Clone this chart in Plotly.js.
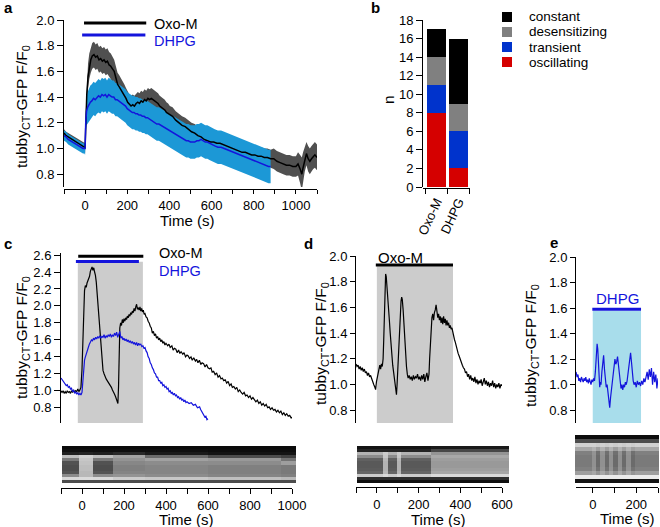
<!DOCTYPE html>
<html><head><meta charset="utf-8">
<script src="https://cdn.plot.ly/plotly-3.0.1.min.js"></script>
<style>html,body{margin:0;padding:0;background:#fff}#chart{width:660px;height:527px}</style>
</head><body><div id="chart"></div>
<script>
// ---------- Panel a : mean +/- SEM (t, mean, sem) ----------
const aOxoM = [[-100,1.12,0.03],[-90,1.10,0.03],[-80,1.09,0.03],[-70,1.08,0.03],[-60,1.07,0.03],[-50,1.06,0.03],[-40,1.05,0.03],[-30,1.04,0.03],[-20,1.03,0.03],[-10,1.02,0.03],[-3,1.01,0.03],[0,1.00,0.04],[4,1.25,0.07],[8,1.42,0.09],[14,1.56,0.10],[20,1.64,0.10],[27,1.69,0.10],[34,1.72,0.10],[42,1.73,0.10],[50,1.71,0.10],[58,1.72,0.10],[66,1.69,0.10],[74,1.70,0.10],[82,1.68,0.10],[90,1.69,0.10],[98,1.67,0.10],[106,1.68,0.10],[114,1.65,0.10],[122,1.64,0.10],[130,1.62,0.10],[138,1.60,0.09],[146,1.55,0.09],[154,1.50,0.09],[162,1.48,0.09],[170,1.46,0.09],[178,1.44,0.09],[186,1.41,0.09],[194,1.39,0.08],[202,1.36,0.08],[210,1.34,0.08],[218,1.33,0.08],[226,1.34,0.08],[234,1.33,0.08],[242,1.35,0.08],[250,1.36,0.08],[258,1.35,0.08],[266,1.37,0.08],[274,1.36,0.08],[282,1.38,0.08],[290,1.37,0.08],[298,1.39,0.08],[306,1.38,0.08],[314,1.39,0.08],[322,1.38,0.08],[330,1.37,0.08],[338,1.36,0.08],[346,1.35,0.08],[354,1.33,0.08],[362,1.32,0.08],[370,1.31,0.08],[378,1.30,0.08],[386,1.28,0.08],[394,1.27,0.08],[402,1.26,0.07],[415,1.25,0.07],[430,1.22,0.07],[445,1.20,0.07],[460,1.18,0.07],[475,1.17,0.07],[490,1.15,0.07],[505,1.13,0.07],[520,1.12,0.07],[535,1.10,0.07],[550,1.09,0.07],[565,1.07,0.07],[580,1.06,0.07],[595,1.05,0.07],[610,1.05,0.07],[625,1.04,0.07],[640,1.04,0.06],[655,1.03,0.06],[670,1.02,0.06],[685,1.01,0.06],[700,1.00,0.06],[715,0.99,0.06],[730,0.98,0.06],[745,0.97,0.06],[760,0.97,0.06],[775,0.96,0.06],[790,0.95,0.06],[805,0.95,0.06],[820,0.94,0.07],[835,0.94,0.07],[850,0.93,0.07],[865,0.93,0.07],[880,0.92,0.07],[895,0.92,0.08],[910,0.90,0.08],[925,0.89,0.08],[940,0.88,0.08],[955,0.87,0.08],[970,0.87,0.08],[985,0.86,0.08],[1000,0.86,0.08],[1010,0.88,0.09],[1020,0.84,0.11],[1028,0.80,0.13],[1034,0.85,0.12],[1042,0.92,0.10],[1050,0.96,0.09],[1058,0.92,0.10],[1066,0.90,0.10],[1074,0.92,0.10],[1082,0.94,0.10],[1090,0.95,0.10],[1100,0.93,0.10]];
const aDHPG = [[-100,1.10,0.04],[-90,1.09,0.04],[-80,1.07,0.04],[-70,1.06,0.04],[-60,1.05,0.04],[-50,1.04,0.04],[-40,1.03,0.04],[-30,1.02,0.04],[-20,1.01,0.04],[-10,1.00,0.04],[-3,1.00,0.04],[0,1.00,0.05],[3,1.20,0.08],[7,1.29,0.11],[12,1.32,0.12],[18,1.34,0.13],[25,1.36,0.13],[32,1.37,0.13],[40,1.39,0.13],[48,1.38,0.13],[56,1.40,0.13],[64,1.41,0.13],[72,1.40,0.13],[80,1.42,0.13],[88,1.41,0.13],[96,1.42,0.13],[104,1.40,0.13],[112,1.42,0.13],[120,1.41,0.13],[128,1.40,0.13],[136,1.40,0.13],[144,1.38,0.13],[152,1.38,0.13],[160,1.37,0.13],[168,1.36,0.13],[176,1.35,0.13],[184,1.34,0.13],[192,1.33,0.13],[200,1.31,0.13],[208,1.30,0.13],[216,1.29,0.13],[224,1.28,0.13],[232,1.28,0.13],[240,1.27,0.13],[248,1.27,0.13],[256,1.26,0.13],[264,1.26,0.13],[272,1.25,0.13],[280,1.25,0.13],[288,1.24,0.13],[296,1.24,0.13],[304,1.23,0.13],[312,1.22,0.13],[320,1.21,0.13],[330,1.20,0.13],[340,1.19,0.13],[350,1.19,0.13],[360,1.18,0.13],[370,1.17,0.13],[380,1.16,0.13],[390,1.15,0.13],[400,1.14,0.13],[410,1.13,0.13],[420,1.12,0.13],[430,1.11,0.13],[440,1.10,0.13],[450,1.09,0.13],[460,1.08,0.13],[470,1.07,0.13],[480,1.06,0.13],[490,1.06,0.13],[500,1.05,0.13],[510,1.05,0.13],[520,1.05,0.13],[530,1.06,0.13],[540,1.06,0.13],[550,1.07,0.13],[560,1.06,0.13],[570,1.05,0.13],[580,1.05,0.13],[590,1.04,0.13],[600,1.03,0.13],[615,1.02,0.13],[630,1.01,0.13],[645,1.01,0.13],[660,1.00,0.13],[675,0.99,0.13],[690,0.98,0.13],[705,0.97,0.13],[720,0.96,0.13],[735,0.95,0.13],[750,0.94,0.13],[765,0.93,0.13],[780,0.92,0.13],[795,0.91,0.13],[810,0.90,0.13],[825,0.89,0.13],[840,0.88,0.13],[855,0.87,0.13],[870,0.86,0.13],[880,0.86,0.13]];
const aTickVals = [-100,0,100,200,300,400,500,600,700,800,900,1000,1100];
const aTickText = ['','0','','200','','400','','600','','800','','1000',''];
const yTicks07 = [0.8,1.0,1.2,1.4,1.6,1.8,2.0];
const yTicks07Text = ['0.8','1.0','1.2','1.4','1.6','1.8','2.0'];

// ---------- Panel b : response types ----------
const bCategories = ['Oxo-M','DHPG'];
const bOscillating = [8,2];
const bTransient = [3,4];
const bDesensitizing = [3,3];
const bConstant = [3,7];
const bYTicks = [0,2,4,6,8,10,12,14,16,18];

// ---------- Panel c : single-cell traces ----------
const cOxoM = [[-100,1.00],[-95,0.98],[-90,1.00],[-85,0.97],[-80,0.99],[-75,0.97],[-70,1.00],[-65,0.98],[-60,0.99],[-55,0.97],[-50,1.00],[-45,0.98],[-40,1.01],[-35,0.98],[-30,1.00],[-25,0.99],[-20,1.02],[-15,0.99],[-10,1.01],[-5,1.04],[0,1.25],[4,1.65],[8,2.00],[12,2.18],[16,2.24],[20,2.22],[24,2.27],[28,2.29],[32,2.33],[36,2.35],[40,2.41],[44,2.44],[48,2.46],[52,2.42],[56,2.45],[60,2.40],[64,2.36],[68,2.28],[72,2.15],[76,2.00],[80,1.85],[84,1.68],[88,1.52],[92,1.40],[96,1.30],[100,1.24],[105,1.20],[110,1.16],[115,1.14],[120,1.12],[125,1.10],[130,1.09],[135,1.06],[140,1.04],[145,1.01],[150,0.99],[155,0.96],[160,0.93],[164,0.90],[168,0.87],[171,0.85],[174,1.05],[177,1.45],[180,1.74],[184,1.80],[188,1.77],[192,1.84],[196,1.80],[200,1.85],[204,1.82],[208,1.86],[212,1.84],[216,1.88],[220,1.86],[224,1.90],[228,1.88],[232,1.92],[236,1.90],[240,1.94],[244,1.92],[248,1.97],[252,1.94],[256,1.99],[260,2.02],[264,1.96],[268,1.98],[272,1.95],[276,1.99],[280,1.94],[284,1.97],[288,1.93],[292,1.95],[296,1.90],[300,1.91],[305,1.87],[310,1.86],[315,1.82],[320,1.80],[325,1.76],[330,1.74],[335,1.68],[340,1.70],[345,1.65],[350,1.67],[355,1.62],[360,1.64],[365,1.60],[370,1.62],[375,1.58],[380,1.60],[385,1.56],[390,1.58],[395,1.54],[400,1.56],[408,1.53],[414,1.55],[420,1.51],[428,1.53],[434,1.48],[440,1.50],[447,1.49],[453,1.45],[460,1.48],[466,1.44],[472,1.46],[480,1.43],[486,1.45],[493,1.40],[500,1.42],[506,1.41],[512,1.38],[519,1.40],[525,1.36],[532,1.39],[540,1.35],[546,1.37],[552,1.33],[559,1.36],[566,1.31],[572,1.33],[579,1.32],[586,1.28],[593,1.31],[600,1.27],[607,1.26],[614,1.27],[620,1.22],[627,1.23],[634,1.19],[641,1.21],[648,1.16],[655,1.18],[662,1.14],[668,1.15],[675,1.12],[682,1.13],[689,1.09],[696,1.11],[703,1.06],[710,1.08],[716,1.04],[723,1.05],[730,1.02],[737,1.04],[744,0.99],[751,1.01],[758,0.98],[765,0.96],[772,0.98],[779,0.94],[786,0.95],[793,0.92],[800,0.94],[807,0.90],[814,0.92],[821,0.89],[828,0.87],[835,0.89],[842,0.85],[849,0.87],[856,0.83],[863,0.85],[870,0.82],[877,0.84],[884,0.80],[891,0.81],[898,0.78],[905,0.80],[912,0.77],[919,0.78],[926,0.75],[933,0.77],[940,0.74],[947,0.76],[954,0.72],[961,0.74],[968,0.71],[975,0.73],[982,0.70],[989,0.71],[996,0.68],[1005,0.69]];
const cDHPG = [[-100,1.15],[-95,1.13],[-90,1.12],[-85,1.09],[-80,1.08],[-75,1.06],[-70,1.07],[-65,1.04],[-60,1.05],[-55,1.02],[-50,1.03],[-45,0.99],[-40,1.01],[-35,0.97],[-30,0.99],[-25,0.96],[-20,0.98],[-15,0.95],[-10,0.97],[-5,0.95],[0,0.98],[3,1.08],[6,1.22],[9,1.33],[12,1.36],[15,1.39],[18,1.42],[22,1.44],[26,1.47],[30,1.51],[35,1.55],[40,1.57],[45,1.60],[50,1.59],[55,1.62],[60,1.60],[65,1.63],[70,1.61],[75,1.64],[80,1.62],[85,1.65],[90,1.62],[95,1.64],[100,1.63],[105,1.66],[110,1.62],[115,1.65],[120,1.63],[125,1.66],[130,1.64],[135,1.67],[140,1.63],[145,1.66],[150,1.64],[155,1.68],[160,1.65],[165,1.69],[170,1.63],[175,1.66],[180,1.70],[185,1.62],[190,1.64],[195,1.60],[200,1.62],[205,1.59],[210,1.61],[215,1.58],[220,1.60],[225,1.57],[230,1.59],[235,1.56],[240,1.58],[245,1.55],[250,1.57],[255,1.54],[260,1.57],[265,1.53],[270,1.56],[275,1.54],[280,1.55],[285,1.52],[290,1.53],[295,1.50],[300,1.51],[305,1.47],[310,1.45],[315,1.40],[320,1.38],[325,1.33],[330,1.31],[335,1.27],[340,1.25],[345,1.21],[350,1.20],[355,1.16],[360,1.16],[365,1.12],[370,1.12],[375,1.09],[380,1.10],[385,1.06],[390,1.07],[395,1.04],[400,1.05],[405,1.02],[410,1.03],[415,0.99],[420,1.00],[425,0.97],[430,0.98],[435,0.95],[440,0.97],[445,0.94],[450,0.95],[455,0.92],[460,0.93],[465,0.90],[470,0.92],[475,0.89],[480,0.90],[485,0.87],[490,0.89],[495,0.86],[500,0.87],[510,0.85],[520,0.86],[530,0.83],[540,0.84],[550,0.80],[560,0.81],[565,0.78],[570,0.76],[575,0.73],[580,0.72],[585,0.69],[590,0.70],[595,0.66],[600,0.67]];
const cTickVals = [-100,0,100,200,300,400,500,600,700,800,900,1000];
const cTickText = ['','0','','200','','400','','600','','800','','1000'];
const cYTicks = [0.8,1.0,1.2,1.4,1.6,1.8,2.0,2.2,2.4,2.6];
const cYTicksText = ['0.8','1.0','1.2','1.4','1.6','1.8','2.0','2.2','2.4','2.6'];

// ---------- Panel d ----------
const dOxoM = [[-100,1.16],[-95,1.14],[-90,1.15],[-85,1.12],[-80,1.14],[-75,1.11],[-70,1.13],[-65,1.10],[-60,1.12],[-55,1.09],[-50,1.10],[-45,1.07],[-40,1.09],[-35,1.06],[-30,1.07],[-25,1.04],[-20,1.03],[-15,1.00],[-10,0.98],[-6,0.96],[-2,1.02],[2,1.06],[6,1.10],[10,1.12],[14,1.15],[18,1.12],[22,1.16],[26,1.14],[30,1.20],[33,1.35],[36,1.55],[39,1.72],[42,1.86],[45,1.84],[48,1.78],[52,1.72],[56,1.62],[60,1.50],[64,1.40],[68,1.30],[72,1.22],[76,1.15],[80,1.10],[84,1.05],[88,1.00],[91,0.94],[94,0.92],[97,1.00],[100,1.12],[104,1.30],[108,1.46],[112,1.58],[116,1.65],[119,1.68],[122,1.66],[126,1.58],[130,1.45],[134,1.33],[138,1.22],[142,1.14],[146,1.08],[150,1.05],[155,1.07],[160,1.04],[165,1.06],[170,1.03],[175,1.07],[180,1.04],[185,1.06],[190,1.05],[195,1.08],[200,1.04],[205,1.06],[210,1.03],[215,1.07],[220,1.04],[225,1.08],[230,1.02],[235,1.06],[240,1.09],[245,1.03],[250,1.08],[253,1.20],[256,1.32],[260,1.45],[264,1.52],[268,1.55],[272,1.50],[276,1.56],[280,1.58],[284,1.62],[288,1.55],[292,1.52],[296,1.55],[300,1.50],[304,1.53],[308,1.48],[312,1.52],[316,1.47],[320,1.53],[324,1.48],[328,1.51],[332,1.46],[336,1.50],[340,1.46],[344,1.48],[348,1.44],[352,1.46],[356,1.43],[360,1.44],[364,1.40],[368,1.38],[372,1.35],[376,1.33],[380,1.30],[385,1.27],[390,1.24],[395,1.22],[400,1.19],[405,1.17],[410,1.15],[415,1.13],[420,1.12],[425,1.09],[430,1.10],[435,1.06],[440,1.08],[445,1.04],[450,1.07],[455,1.03],[460,1.05],[465,1.02],[470,1.06],[475,1.01],[480,1.04],[485,1.00],[490,1.03],[495,1.01],[500,1.04],[505,0.99],[510,1.02],[515,1.05],[520,1.00],[525,1.03],[530,0.99],[535,1.02],[540,0.98],[545,1.01],[550,0.99],[555,1.03],[560,0.98],[565,1.01],[570,0.97],[575,1.00],[580,0.98],[585,1.01],[590,0.97],[595,1.00],[600,0.99]];
const dTickVals = [-100,0,100,200,300,400,500,600];
const dTickText = ['','0','','200','','400','','600'];

// ---------- Panel e ----------
const eDHPG = [[-77,1.10],[-72,1.06],[-68,1.08],[-64,1.03],[-60,1.05],[-56,1.02],[-52,1.06],[-48,1.04],[-44,1.02],[-40,1.05],[-36,1.03],[-32,1.06],[-28,1.02],[-24,1.04],[-20,1.01],[-16,1.05],[-12,1.03],[-8,1.00],[-4,1.04],[0,1.02],[4,1.05],[8,1.03],[12,1.10],[16,1.22],[20,1.32],[23,1.28],[26,1.15],[29,1.05],[32,0.98],[35,1.02],[38,1.00],[42,1.10],[46,1.20],[50,1.23],[54,1.12],[58,1.02],[62,0.98],[66,1.00],[70,0.95],[74,0.90],[78,0.82],[82,0.90],[86,0.97],[90,1.00],[94,1.05],[98,1.15],[102,1.20],[106,1.16],[110,1.18],[114,1.22],[118,1.15],[122,1.05],[126,1.00],[130,0.97],[134,1.00],[138,0.96],[142,1.00],[146,0.98],[150,1.02],[154,1.00],[158,1.03],[162,1.08],[166,1.15],[170,1.20],[174,1.25],[178,1.18],[182,1.08],[186,1.03],[190,1.00],[195,1.02],[200,0.98],[205,1.03],[210,1.00],[215,1.02],[220,0.99],[225,1.03],[230,1.00],[235,1.05],[240,1.02],[245,1.08],[250,1.10],[255,1.04],[260,1.12],[265,1.06],[270,1.13],[275,1.00],[280,1.10],[285,1.02],[290,1.08],[295,0.97],[300,1.05]];
const eTickVals = [0,100,200,300];
const eTickText = ['0','','200',''];

// ---------- Kymograph strips (column edges in s, profile per column, top->bottom grey levels) ----------
const kymoCProfiles = {
  dark:   [0.04,0.06,0.12,0.74,0.48,0.32,0.30,0.30,0.33,0.55,0.85,0.30],
  bright: [0.04,0.06,0.14,0.82,0.78,0.76,0.74,0.74,0.72,0.72,0.86,0.30],
  mid:    [0.04,0.06,0.16,0.64,0.58,0.53,0.50,0.50,0.52,0.58,0.80,0.30],
  late1:  [0.04,0.06,0.10,0.42,0.63,0.55,0.52,0.52,0.52,0.55,0.78,0.30],
  late2:  [0.04,0.05,0.08,0.30,0.60,0.55,0.50,0.50,0.50,0.52,0.75,0.30],
  end:    [0.04,0.05,0.08,0.25,0.45,0.62,0.48,0.48,0.48,0.50,0.72,0.30]
};
const kymoCEdges = [-95,-15,55,150,300,600,950,1020];
const kymoCCols = ['dark','bright','dark','mid','late1','late2','end'];
const kymoDProfiles = {
  dark:   [0.08,0.14,0.70,0.55,0.38,0.35,0.35,0.36,0.40,0.80,0.18,0.06],
  bright: [0.08,0.14,0.80,0.78,0.72,0.70,0.70,0.70,0.72,0.85,0.18,0.06],
  light:  [0.10,0.28,0.58,0.66,0.62,0.60,0.60,0.62,0.65,0.85,0.18,0.06]
};
const kymoDEdges = [-96,30,55,95,115,260,635];
const kymoDCols = ['dark','bright','dark','bright','dark','light'];
const kymoEProfiles = {
  base:  [0.05,0.30,0.82,0.66,0.50,0.48,0.48,0.48,0.50,0.62,0.92,0.08],
  light: [0.05,0.30,0.82,0.70,0.58,0.57,0.57,0.57,0.58,0.66,0.92,0.08],
  dark:  [0.05,0.30,0.80,0.62,0.44,0.42,0.42,0.42,0.45,0.58,0.92,0.08]
};
const kymoEEdges = [-77,0,20,40,60,80,100,120,140,160,180,200,310];
const kymoECols = ['base','light','dark','light','dark','light','dark','light','dark','light','dark','base'];

// ---------- helpers ----------
const W = 660, H = 527;
const X = p => p / W, Y = p => 1 - p / H;
const FONT = 'Liberation Sans, Arial, sans-serif';
const BLUE = '#1414dc';
const col = (arr, i) => arr.map(r => r[i]);
function kymoZ(profiles, cols) {
  const rows = profiles[cols[0]].length;
  const z = [];
  for (let r = 0; r < rows; r++) z.push(cols.map(c => profiles[c][r]));
  return z;
}
function band(arr) {
  const t = col(arr, 0), up = arr.map(r => r[1] + r[2]), lo = arr.map(r => r[1] - r[2]);
  return {x: t.concat(t.slice().reverse()), y: up.concat(lo.slice().reverse())};
}
const grey = [[0,'#000'],[1,'#fff']];

const bandOxo = band(aOxoM), bandDh = band(aDHPG);
const traces = [
  {type:'scatter', mode:'lines', x:bandOxo.x, y:bandOxo.y, fill:'toself', fillcolor:'rgb(80,80,80)', line:{width:0}, xaxis:'x', yaxis:'y', hoverinfo:'skip'},
  {type:'scatter', mode:'lines', x:bandDh.x, y:bandDh.y, fill:'toself', fillcolor:'rgb(28,152,214)', line:{width:0}, xaxis:'x', yaxis:'y', hoverinfo:'skip'},
  {type:'scatter', mode:'lines', x:col(aOxoM,0), y:col(aOxoM,1), line:{color:'#000', width:1.5}, xaxis:'x', yaxis:'y'},
  {type:'scatter', mode:'lines', x:col(aDHPG,0), y:col(aDHPG,1), line:{color:BLUE, width:1.5}, xaxis:'x', yaxis:'y'},
  {type:'bar', x:bCategories, y:bOscillating, marker:{color:'rgb(213,0,0)', line:{width:0}}, width:0.86, xaxis:'x2', yaxis:'y2'},
  {type:'bar', x:bCategories, y:bTransient, marker:{color:'rgb(0,51,204)', line:{width:0}}, width:0.86, xaxis:'x2', yaxis:'y2'},
  {type:'bar', x:bCategories, y:bDesensitizing, marker:{color:'rgb(128,128,128)', line:{width:0}}, width:0.86, xaxis:'x2', yaxis:'y2'},
  {type:'bar', x:bCategories, y:bConstant, marker:{color:'#000', line:{width:0}}, width:0.86, xaxis:'x2', yaxis:'y2'},
  {type:'scatter', mode:'lines', x:col(cOxoM,0), y:col(cOxoM,1), line:{color:'#000', width:1.2}, xaxis:'x3', yaxis:'y3'},
  {type:'scatter', mode:'lines', x:col(cDHPG,0), y:col(cDHPG,1), line:{color:BLUE, width:1.2}, xaxis:'x3', yaxis:'y3'},
  {type:'heatmap', x:kymoCEdges, z:kymoZ(kymoCProfiles,kymoCCols), colorscale:grey, zmin:0, zmax:1, showscale:false, xaxis:'x4', yaxis:'y4', hoverinfo:'skip'},
  {type:'scatter', mode:'lines', x:col(dOxoM,0), y:col(dOxoM,1), line:{color:'#000', width:1.2}, xaxis:'x5', yaxis:'y5'},
  {type:'heatmap', x:kymoDEdges, z:kymoZ(kymoDProfiles,kymoDCols), colorscale:grey, zmin:0, zmax:1, showscale:false, xaxis:'x6', yaxis:'y6', hoverinfo:'skip'},
  {type:'scatter', mode:'lines', x:col(eDHPG,0), y:col(eDHPG,1), line:{color:BLUE, width:1.2}, xaxis:'x7', yaxis:'y7'},
  {type:'heatmap', x:kymoEEdges, z:kymoZ(kymoEProfiles,kymoECols), colorscale:grey, zmin:0, zmax:1, showscale:false, xaxis:'x8', yaxis:'y8', hoverinfo:'skip'}
];

const ax = (o) => Object.assign({showline:true, linecolor:'#000', linewidth:1, ticks:'outside', tickcolor:'#000', tickwidth:1, ticklen:5, showgrid:false, zeroline:false, tickfont:{size:13, color:'#000', family:FONT}, fixedrange:true}, o);
const hid = (o) => Object.assign({visible:false, showgrid:false, zeroline:false, fixedrange:true}, o);

const shapes = [
  {type:'line', xref:'x', yref:'y', x0:-5, x1:290, y0:1.977, y1:1.977, line:{color:'#000', width:3}},
  {type:'line', xref:'x', yref:'y', x0:-14, x1:286, y0:1.883, y1:1.883, line:{color:BLUE, width:3}},
  {type:'rect', xref:'x3', yref:'y3', x0:-20, x1:290, y0:0.62, y1:2.52, fillcolor:'rgb(204,204,204)', line:{width:0}, layer:'below'},
  {type:'line', xref:'x3', yref:'y3', x0:-18, x1:292, y0:2.585, y1:2.585, line:{color:'#000', width:3}},
  {type:'line', xref:'x3', yref:'y3', x0:-29, x1:271, y0:2.525, y1:2.525, line:{color:BLUE, width:3}},
  {type:'rect', xref:'x5', yref:'y5', x0:0, x1:365, y0:0.7, y1:1.92, fillcolor:'rgb(204,204,204)', line:{width:0}, layer:'below'},
  {type:'line', xref:'x5', yref:'y5', x0:-5, x1:365, y0:1.93, y1:1.93, line:{color:'#000', width:3}},
  {type:'rect', xref:'x7', yref:'y7', x0:0, x1:222, y0:0.7, y1:1.58, fillcolor:'rgb(168,221,235)', line:{width:0}, layer:'below'},
  {type:'line', xref:'x7', yref:'y7', x0:-2, x1:222, y0:1.59, y1:1.59, line:{color:BLUE, width:3}}
];
const legColors = ['#000','rgb(128,128,128)','rgb(0,51,204)','rgb(213,0,0)'];
const legLabels = ['constant','desensitizing','transient','oscillating'];
const legRows = [17,32,47,62];
legRows.forEach((r,i) => shapes.push({type:'rect', xref:'paper', yref:'paper', x0:X(502), x1:X(512), y0:Y(r+5), y1:Y(r-5), fillcolor:legColors[i], line:{width:0}}));

const ann = (px, py, text, o) => Object.assign({xref:'paper', yref:'paper', x:X(px), y:Y(py), text:text, showarrow:false, xanchor:'center', yanchor:'middle', font:{size:15, color:'#000', family:FONT}}, o||{});
const ytitle = 'tubby<sub>CT</sub>-GFP F/F<sub>0</sub>';
const tf = {size:15.5, color:'#000', family:FONT};
const xf = {size:15, color:'#000', family:FONT};
const lf = {size:13.5, color:'#000', family:FONT};
const annotations = [
  ann(2,8,'<b>a</b>',{xanchor:'left'}), ann(369,8,'<b>b</b>',{xanchor:'left'}),
  ann(2,243,'<b>c</b>',{xanchor:'left'}), ann(302,243,'<b>d</b>',{xanchor:'left'}), ann(548,242,'<b>e</b>',{xanchor:'left'}),
  ann(23,107,ytitle,{textangle:-90, font:tf}), ann(22,338,ytitle,{textangle:-90, font:tf}), ann(321,344,ytitle,{textangle:-90, font:tf}), ann(531,346,ytitle,{textangle:-90, font:tf}),
  ann(389,100,'n',{textangle:-90, font:tf}),
  ann(187,220,'Time (s)',{font:xf}), ann(186,519,'Time (s)',{font:xf}), ann(438,519,'Time (s)',{font:xf}), ann(627,518,'Time (s)',{font:xf}),
  ann(152,24,'Oxo-M',{xanchor:'left', font:{size:14.5,color:'#000',family:FONT}}), ann(152,41,'DHPG',{xanchor:'left', font:{size:14.5,color:BLUE,family:FONT}}),
  ann(157,253,'Oxo-M',{xanchor:'left', font:{size:14.5,color:'#000',family:FONT}}), ann(157,271,'DHPG',{xanchor:'left', font:{size:14.5,color:BLUE,family:FONT}}),
  ann(376,257,'Oxo-M',{xanchor:'left'}),
  ann(594,298,'DHPG',{xanchor:'left', font:{size:15,color:BLUE,family:FONT}})
];
legLabels.forEach((l,i) => annotations.push(ann(527,legRows[i],l,{xanchor:'left', font:lf})));

const layout = {
  width:W, height:H, margin:{l:0,r:0,t:0,b:0}, paper_bgcolor:'#fff', plot_bgcolor:'rgba(0,0,0,0)',
  showlegend:false, barmode:'stack', font:{family:FONT, color:'#000'},
  xaxis: ax({domain:[X(64),X(317)], range:[-100,1100], anchor:'free', position:Y(189), tickmode:'array', tickvals:aTickVals, ticktext:aTickText, ticklen:4}),
  yaxis: ax({domain:[Y(187),Y(20)], range:[0.7,2.0], anchor:'x', tickmode:'array', tickvals:yTicks07, ticktext:yTicks07Text, ticklen:6}),
  xaxis2: ax({domain:[X(423),X(470)], type:'category', range:[-0.614,1.523], anchor:'free', position:Y(188), tickson:'boundaries', tickangle:-65}),
  yaxis2: ax({domain:[Y(187),Y(20)], range:[0,18], anchor:'x2', tickmode:'array', tickvals:bYTicks, ticklen:6}),
  xaxis3: ax({domain:[X(61),X(292)], range:[-100,1000], anchor:'free', position:Y(488), tickmode:'array', tickvals:cTickVals, ticktext:cTickText}),
  yaxis3: ax({domain:[Y(423),Y(253)], range:[0.62,2.624], anchor:'x3', tickmode:'array', tickvals:cYTicks, ticktext:cYTicksText, ticklen:6}),
  xaxis4: hid({domain:[X(62),X(296)], range:[-95,1020], anchor:'y4'}),
  yaxis4: hid({domain:[Y(483),Y(446)], range:[11.5,-0.5], anchor:'x4'}),
  xaxis5: ax({domain:[X(356),X(502)], range:[-100,600], anchor:'free', position:Y(487), tickmode:'array', tickvals:dTickVals, ticktext:dTickText}),
  yaxis5: ax({domain:[Y(423),Y(256)], range:[0.7,2.0], anchor:'x5', tickmode:'array', tickvals:yTicks07, ticktext:yTicks07Text, ticklen:5}),
  xaxis6: hid({domain:[X(357),X(509)], range:[-96,635], anchor:'y6'}),
  yaxis6: hid({domain:[Y(483),Y(446)], range:[11.5,-0.5], anchor:'x6'}),
  xaxis7: ax({domain:[X(576),X(658)], range:[-77,300], anchor:'free', position:Y(487), tickmode:'array', tickvals:eTickVals, ticktext:eTickText}),
  yaxis7: ax({domain:[Y(423),Y(257)], range:[0.7,2.0], anchor:'x7', tickmode:'array', tickvals:yTicks07, ticktext:yTicks07Text, ticklen:5}),
  xaxis8: hid({domain:[X(575),X(659)], range:[-77,310], anchor:'y8'}),
  yaxis8: hid({domain:[Y(483),Y(435)], range:[11.5,-0.5], anchor:'x8'}),
  shapes: shapes,
  annotations: annotations
};
Plotly.newPlot('chart', traces, layout, {staticPlot:true, displayModeBar:false});
</script>
</body></html>
